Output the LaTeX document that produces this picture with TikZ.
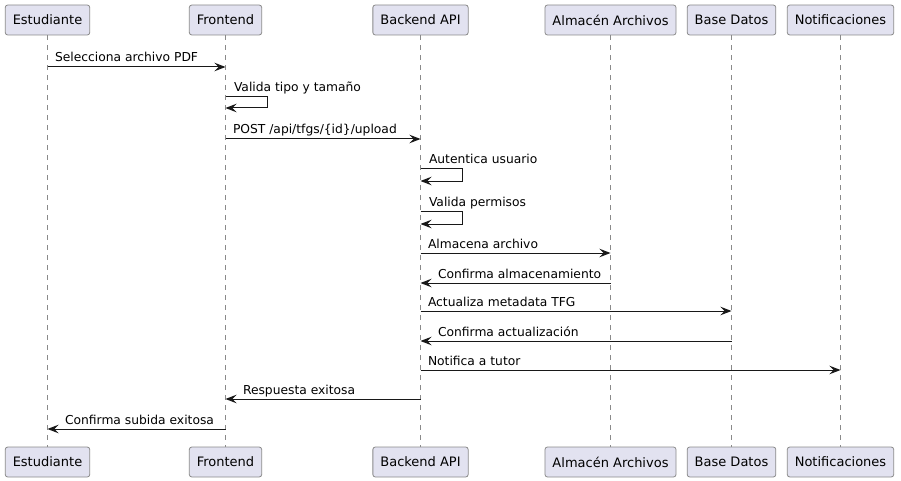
\documentclass[tikz,border=0pt]{standalone}
\usepackage{fontspec}
\setmainfont{DejaVu Sans}
\usetikzlibrary{positioning}
\usetikzlibrary{arrows.meta}
\definecolor{partfill}{HTML}{E2E2F0}
\definecolor{partline}{HTML}{8A8A8A}
\definecolor{umlline}{HTML}{181818}

\begin{document}
\begin{tikzpicture}
        [x = 1pt, y = -1pt,
        part/.style = {draw = partline, line width = 0.8pt, fill = partfill, rounded corners = 2.5pt,
            minimum height = 30pt, inner xsep = 7.5pt, font = {\fontsize{13}{15}\selectfont}},
        life/.style = {draw = partline, line width = 0.7pt, dash pattern = on 5pt off 5pt},
        msg/.style = {draw = umlline, line width = 1pt, -{Stealth[length = 11pt, width = 8.5pt, inset = 4pt]}},
        lbl/.style = {inner sep = 0, anchor = base west, yshift = 5pt, font = {\fontsize{12.3}{14}\selectfont}},
        lr/.style = {lbl, pos = 0, xshift = 7pt},
        rl/.style = {lbl, pos = 1, xshift = 17pt},
        self/.style = {lbl, xshift = 8pt}]
        \useasboundingbox (0, 0) rectangle (901, 481);
        % participants, top and bottom
        \node[part] (est) at (47.5, 20) {Estudiante};
        \node[part] (fro) at (225.5, 20) {Frontend};
        \node[part] (bak) at (420.5, 20) {Backend API};
        \node[part] (alm) at (610.5, 20) {Almacén Archivos};
        \node[part] (bdd) at (731.5, 20) {Base Datos};
        \node[part] (not) at (840.5, 20) {Notificaciones};
        \node[part] (est2) at (47.5, 462) {Estudiante};
        \node[part] (fro2) at (225.5, 462) {Frontend};
        \node[part] (bak2) at (420.5, 462) {Backend API};
        \node[part] (alm2) at (610.5, 462) {Almacén Archivos};
        \node[part] (bdd2) at (731.5, 462) {Base Datos};
        \node[part] (not2) at (840.5, 462) {Notificaciones};
        % lifelines
        \draw[life] (est) -- (est2);
        \draw[life] (fro) -- (fro2);
        \draw[life] (bak) -- (bak2);
        \draw[life] (alm) -- (alm2);
        \draw[life] (bdd) -- (bdd2);
        \draw[life] (not) -- (not2);
        % messages
        \draw[msg] (est |- 0, 67) -- node[lr] (m1) {Selecciona archivo PDF} (fro |- 0, 67);
        \draw[msg] (fro |- 0, 97) node[self] (m2) {Valida tipo y tamaño} -- ++(42, 0) |- (fro |- 0, 108);
        \draw[msg] (fro |- 0, 139) -- node[lr] (m3) {POST /api/tfgs/\{id\}/upload} (bak |- 0, 139);
        \draw[msg] (bak |- 0, 169) node[self] (m4) {Autentica usuario} -- ++(42, 0) |- (bak |- 0, 181);
        \draw[msg] (bak |- 0, 211) node[self] (m5) {Valida permisos} -- ++(42, 0) |- (bak |- 0, 224);
        \draw[msg] (bak |- 0, 253) -- node[lr] (m6) {Almacena archivo} (alm |- 0, 253);
        \draw[msg] (alm |- 0, 283) -- node[rl] (m7) {Confirma almacenamiento} (bak |- 0, 283);
        \draw[msg] (bak |- 0, 311) -- node[lr] (m8) {Actualiza metadata TFG} (bdd |- 0, 311);
        \draw[msg] (bdd |- 0, 341) -- node[rl] (m9) {Confirma actualización} (bak |- 0, 341);
        \draw[msg] (bak |- 0, 370) -- node[lr] (m10) {Notifica a tutor} (not |- 0, 370);
        \draw[msg] (bak |- 0, 399) -- node[rl] (m11) {Respuesta exitosa} (fro |- 0, 399);
        \draw[msg] (fro |- 0, 429) -- node[rl] (m12) {Confirma subida exitosa} (est |- 0, 429);
    \end{tikzpicture}
\end{document}
